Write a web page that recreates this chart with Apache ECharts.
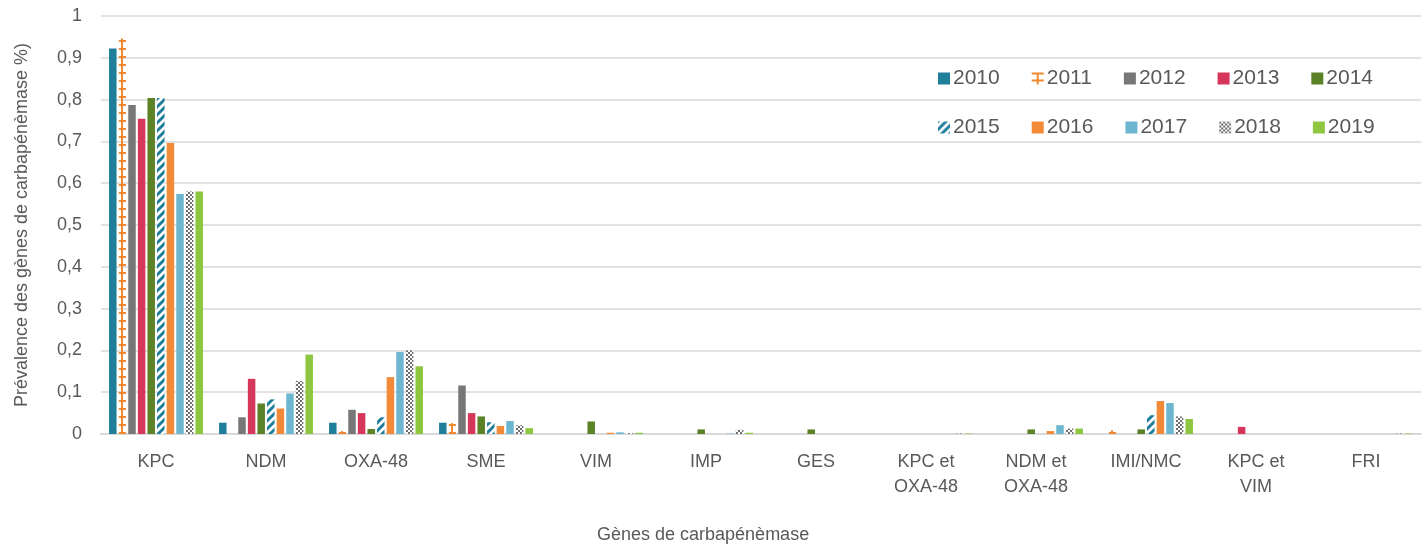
<!DOCTYPE html>
<html>
<head>
<meta charset="utf-8">
<title>Gènes de carbapénèmase</title>
<script src="https://cdn.jsdelivr.net/npm/echarts@6/dist/echarts.min.js"></script>
<style>
  html, body { margin: 0; padding: 0; background: #fff; }
  #chart { width: 1422px; height: 545px; }
</style>
</head>
<body>
<div id="chart"></div>
<script>
// categories (x axis)
const genes = ['KPC', 'NDM', 'OXA-48', 'SME', 'VIM', 'IMP', 'GES', 'KPC et\nOXA-48', 'NDM et\nOXA-48', 'IMI/NMC', 'KPC et\nVIM', 'FRI']
const years = ['2010', '2011', '2012', '2013', '2014', '2015', '2016', '2017', '2018', '2019']
const yTicks = [0, 0.1, 0.2, 0.3, 0.4, 0.5, 0.6, 0.7, 0.8, 0.9, 1]

// one array per year, same order as genes
const y2010 = [0.922, 0.027, 0.027, 0.027, 0, 0, 0, 0, 0, 0, 0, 0]
const y2011 = [0.946, 0, 0.007, 0.026, 0, 0, 0, 0, 0, 0.009, 0, 0]
const y2012 = [0.787, 0.040, 0.058, 0.116, 0, 0, 0, 0, 0, 0, 0, 0]
const y2013 = [0.754, 0.132, 0.050, 0.050, 0, 0, 0, 0, 0, 0, 0.017, 0]
const y2014 = [0.804, 0.073, 0.012, 0.042, 0.030, 0.011, 0.011, 0, 0.011, 0.011, 0, 0]
const y2015 = [0.804, 0.083, 0.040, 0.028, 0, 0, 0, 0, 0, 0.045, 0, 0]
const y2016 = [0.696, 0.061, 0.136, 0.019, 0.003, 0, 0, 0, 0.007, 0.079, 0, 0]
const y2017 = [0.574, 0.097, 0.196, 0.031, 0.004, 0.001, 0, 0, 0.021, 0.074, 0, 0]
const y2018 = [0.580, 0.127, 0.200, 0.021, 0.002, 0.010, 0, 0.001, 0.013, 0.042, 0, 0.001]
const y2019 = [0.580, 0.190, 0.162, 0.014, 0.003, 0.003, 0, 0.001, 0.013, 0.036, 0, 0.001]

const values = [y2010, y2011, y2012, y2013, y2014, y2015, y2016, y2017, y2018, y2019]

// layout numbers
const gridLeft = 101
const gridRight = 1
const plotW = 1422 - gridLeft - gridRight
const band = plotW / genes.length
const barW = 7.5
const gapPct = 0.28
const totalW = barW * 10 + barW * gapPct * 9

const teal = '#1f7f9b'
const orange = '#f28a37'
const gray = '#777777'

function makeTile(w, h, draw) {
    const c = document.createElement('canvas')
    c.width = w
    c.height = h
    const ctx = c.getContext('2d')
    draw(ctx)
    return c
}

// 2011: ladder pattern, one tile per category so the vertical line sits in the bar
const ladderX = band / 2 - totalW / 2 + barW * (1 + gapPct)
const ladder = makeTile(Math.round(band), 8, ctx => {
    ctx.fillStyle = '#f0892f'
    ctx.fillRect(Math.round(ladderX + barW / 2 - 1), 0, 2, 8)
    ctx.fillRect(ladderX, 0, barW, 2)
})
// 2015: diagonal stripes
const stripes = makeTile(8, 8, ctx => {
    ctx.fillStyle = '#fff'
    ctx.fillRect(0, 0, 8, 8)
    ctx.strokeStyle = teal
    ctx.lineWidth = 3
    ctx.beginPath()
    ctx.moveTo(-2, 10); ctx.lineTo(10, -2)
    ctx.moveTo(-2, 2); ctx.lineTo(2, -2)
    ctx.moveTo(6, 10); ctx.lineTo(10, 6)
    ctx.stroke()
})
// 2018: small checker
const checker = makeTile(4, 4, ctx => {
    ctx.fillStyle = '#fff'
    ctx.fillRect(0, 0, 4, 4)
    ctx.fillStyle = '#6e6e6e'
    ctx.fillRect(0, 0, 2, 2)
    ctx.fillRect(2, 2, 2, 2)
})

const colors = [
    teal,
    { image: ladder, repeat: 'repeat', x: gridLeft, y: 0 },
    gray,
    '#d6365a',
    '#5b8226',
    { image: stripes, repeat: 'repeat' },
    orange,
    '#6cb6d0',
    { image: checker, repeat: 'repeat' },
    '#8dc63f'
]

const font = 'Liberation Sans'
const txt = '#595959'

const series = years.map((y, i) => ({
    name: y,
    type: 'bar',
    data: values[i],
    barWidth: barW,
    barGap: (gapPct * 100) + '%',
    itemStyle: { color: colors[i] }
}))

function legendItem(y) {
    if (y === '2011') {
        return {
            name: y,
            icon: 'path://M0,0H12V2H0ZM0,7H12V9H0ZM5,0H7V12H5Z',
            itemStyle: { color: '#f0892f' }
        }
    }
    return { name: y, icon: 'rect' }
}

const legendBase = {
    left: 938,
    padding: 0,
    itemWidth: 12,
    itemHeight: 12,
    itemGap: 32,
    textStyle: { fontFamily: font, fontSize: 21, color: txt, padding: [0, 0, 0, -2] }
}

const chart = echarts.init(document.getElementById('chart'), null, { renderer: 'canvas' })

chart.setOption({
    animation: false,
    grid: {
        left: gridLeft,
        right: gridRight,
        top: 16,
        bottom: 111,
        outerBoundsMode: 'none'
    },
    legend: [
        Object.assign({}, legendBase, { top: 68, data: years.slice(0, 5).map(legendItem) }),
        Object.assign({}, legendBase, { top: 117, data: years.slice(5).map(legendItem) })
    ],
    title: {
        text: 'Gènes de carbapénèmase',
        left: 592,
        top: 521,
        textStyle: { fontFamily: font, fontSize: 18, fontWeight: 'normal', color: txt }
    },
    xAxis: {
        type: 'category',
        data: genes,
        axisTick: { show: false },
        axisLine: { lineStyle: { color: '#d9d9d9', width: 2 } },
        axisLabel: {
            interval: 0,
            margin: 16,
            fontFamily: font,
            fontSize: 18,
            lineHeight: 25,
            color: txt
        }
    },
    yAxis: {
        type: 'value',
        min: 0,
        max: 1,
        interval: 0.1,
        name: 'Prévalence des gènes de carbapénèmase %)',
        nameLocation: 'middle',
        nameGap: 70,
        nameTextStyle: { fontFamily: font, fontSize: 18, color: txt },
        axisLine: { show: false },
        axisTick: { show: false },
        splitLine: { lineStyle: { color: '#d9d9d9', width: 1.5 } },
        axisLabel: {
            margin: 19,
            fontFamily: font,
            fontSize: 18,
            color: txt,
            customValues: yTicks,
            formatter: v => String(Math.round(v * 10) / 10).replace('.', ',')
        }
    },
    series: series
})
</script>
</body>
</html>
